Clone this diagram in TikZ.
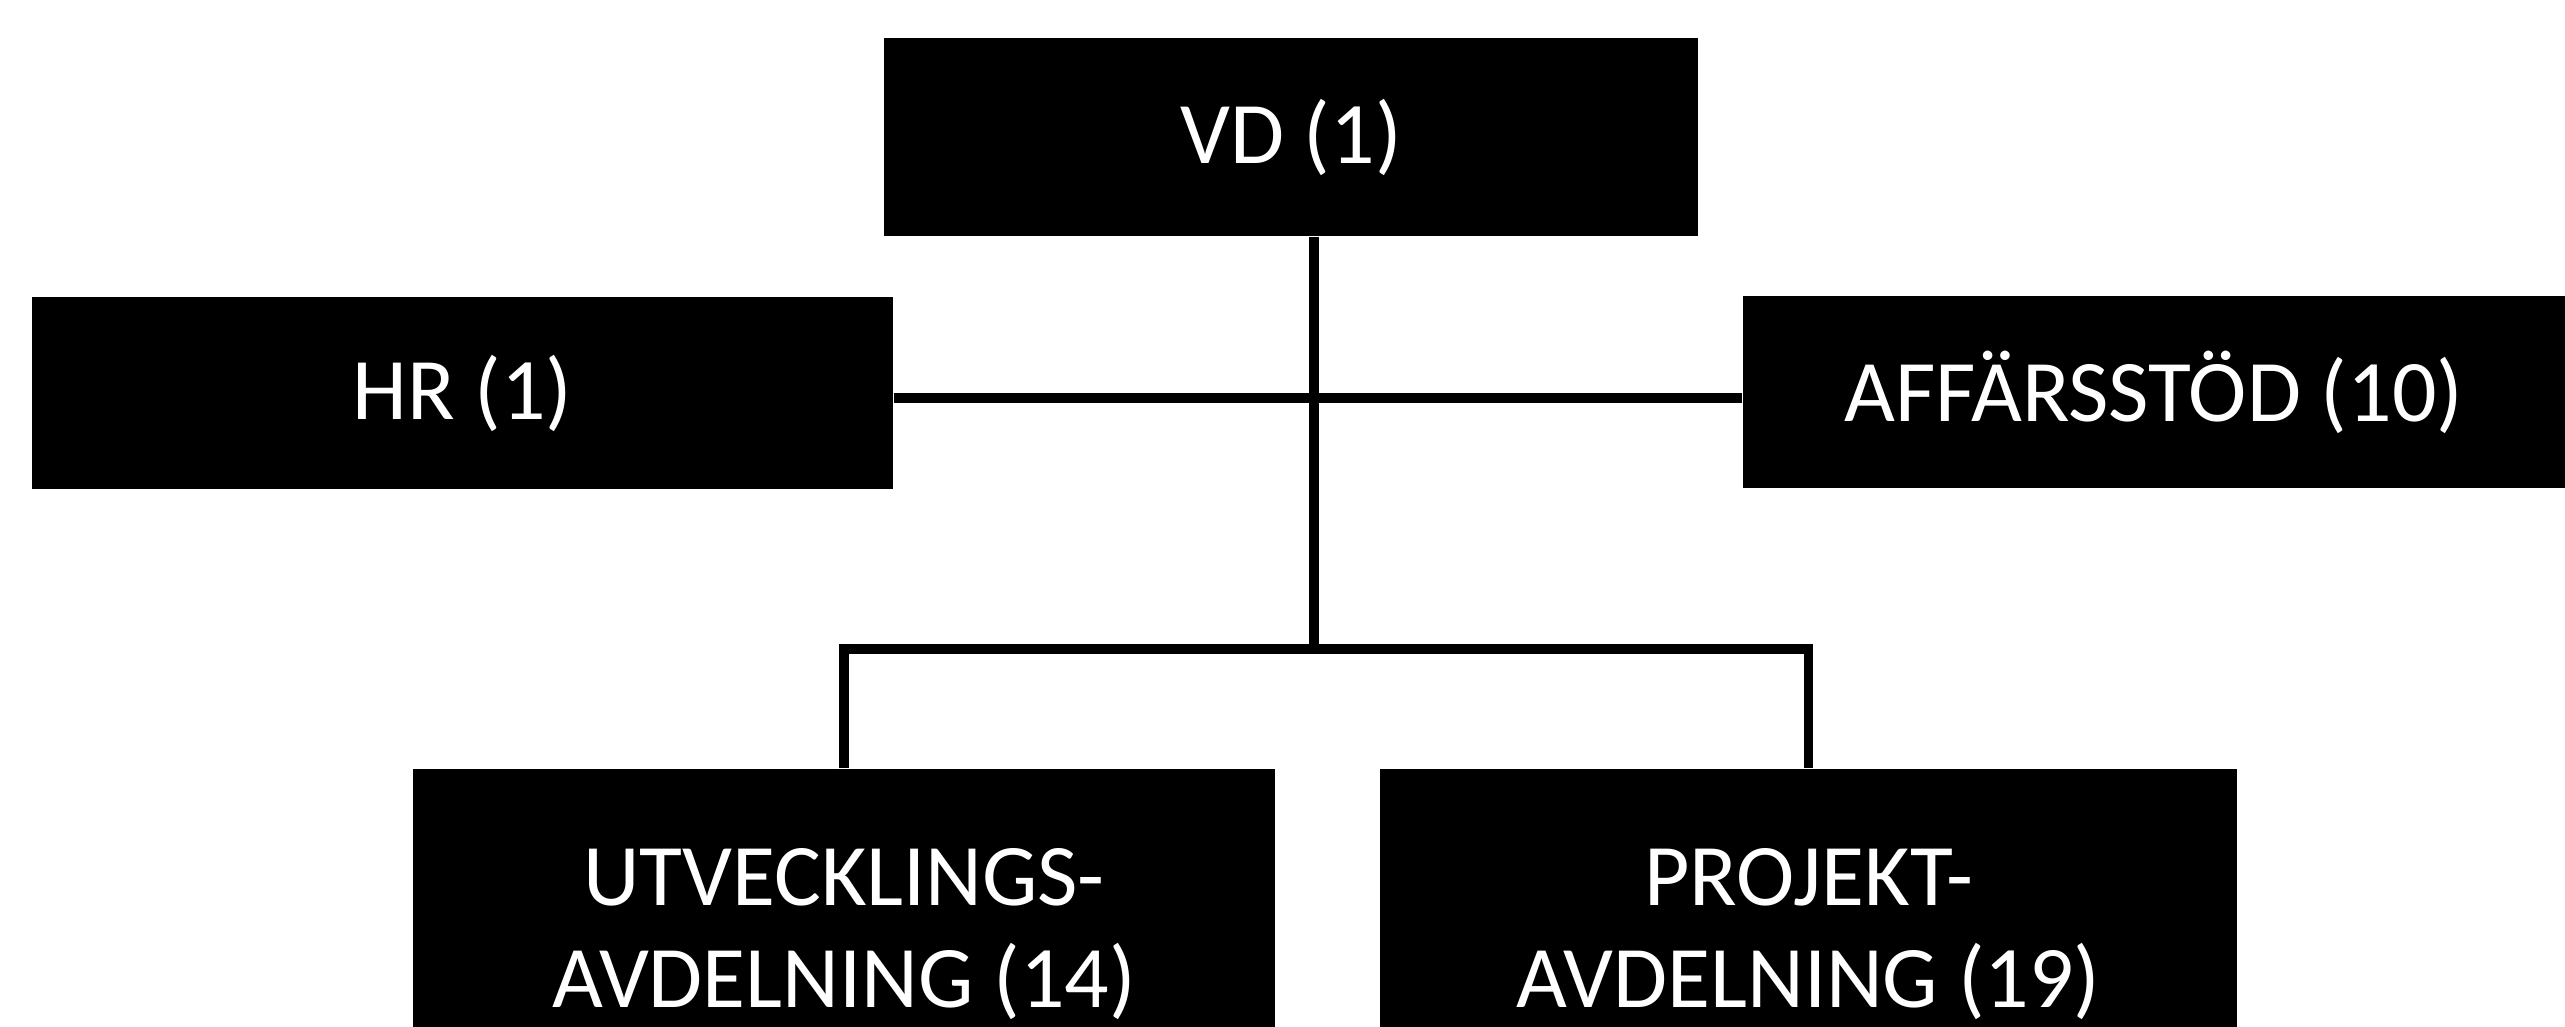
\documentclass[tikz,border=0pt]{standalone}
\usepackage{fontspec}
\setmainfont{Carlito}
\begin{document}
\begin{tikzpicture}[x=0.1mm,y=-0.1mm]
\tikzset{
  box/.style={fill=black,text=white,inner sep=0pt,align=center,font=\fontsize{25}{29}\selectfont},
  conn/.style={line width=0.95mm,draw=black}
}
\useasboundingbox (0,0) rectangle (2565,1026);
\clip (0,0) rectangle (2565,1026);
\fill[white] (0,0) rectangle (2565,1026);
\node[box,minimum width=81.4mm,minimum height=19.8mm] (vd) at (1291,137) {VD (1)};
\node[box,minimum width=86.1mm,minimum height=19.2mm] (hr) at (462.5,393) {HR (1)};
\node[box,minimum width=82.2mm,minimum height=19.2mm] (aff) at (2154,392) {AFFÄRSSTÖD (10)};
\node[box,minimum width=86.2mm,minimum height=33mm] (utv) at (844,934) {UTVECKLINGS-\\AVDELNING (14)};
\node[box,minimum width=85.7mm,minimum height=33mm] (proj) at (1808.5,934) {PROJEKT-\\AVDELNING (19)};
\coordinate (h) at (1314,398);
\coordinate (j1) at (1314,649);
\draw[conn] (vd.south -| j1) -- (j1);
\draw[conn] (hr.east |- h) -- (aff.west |- h);
\draw[conn] (utv.north) -- (utv.north |- j1) -- (proj.north |- j1) -- (proj.north);
\end{tikzpicture}
\end{document}
